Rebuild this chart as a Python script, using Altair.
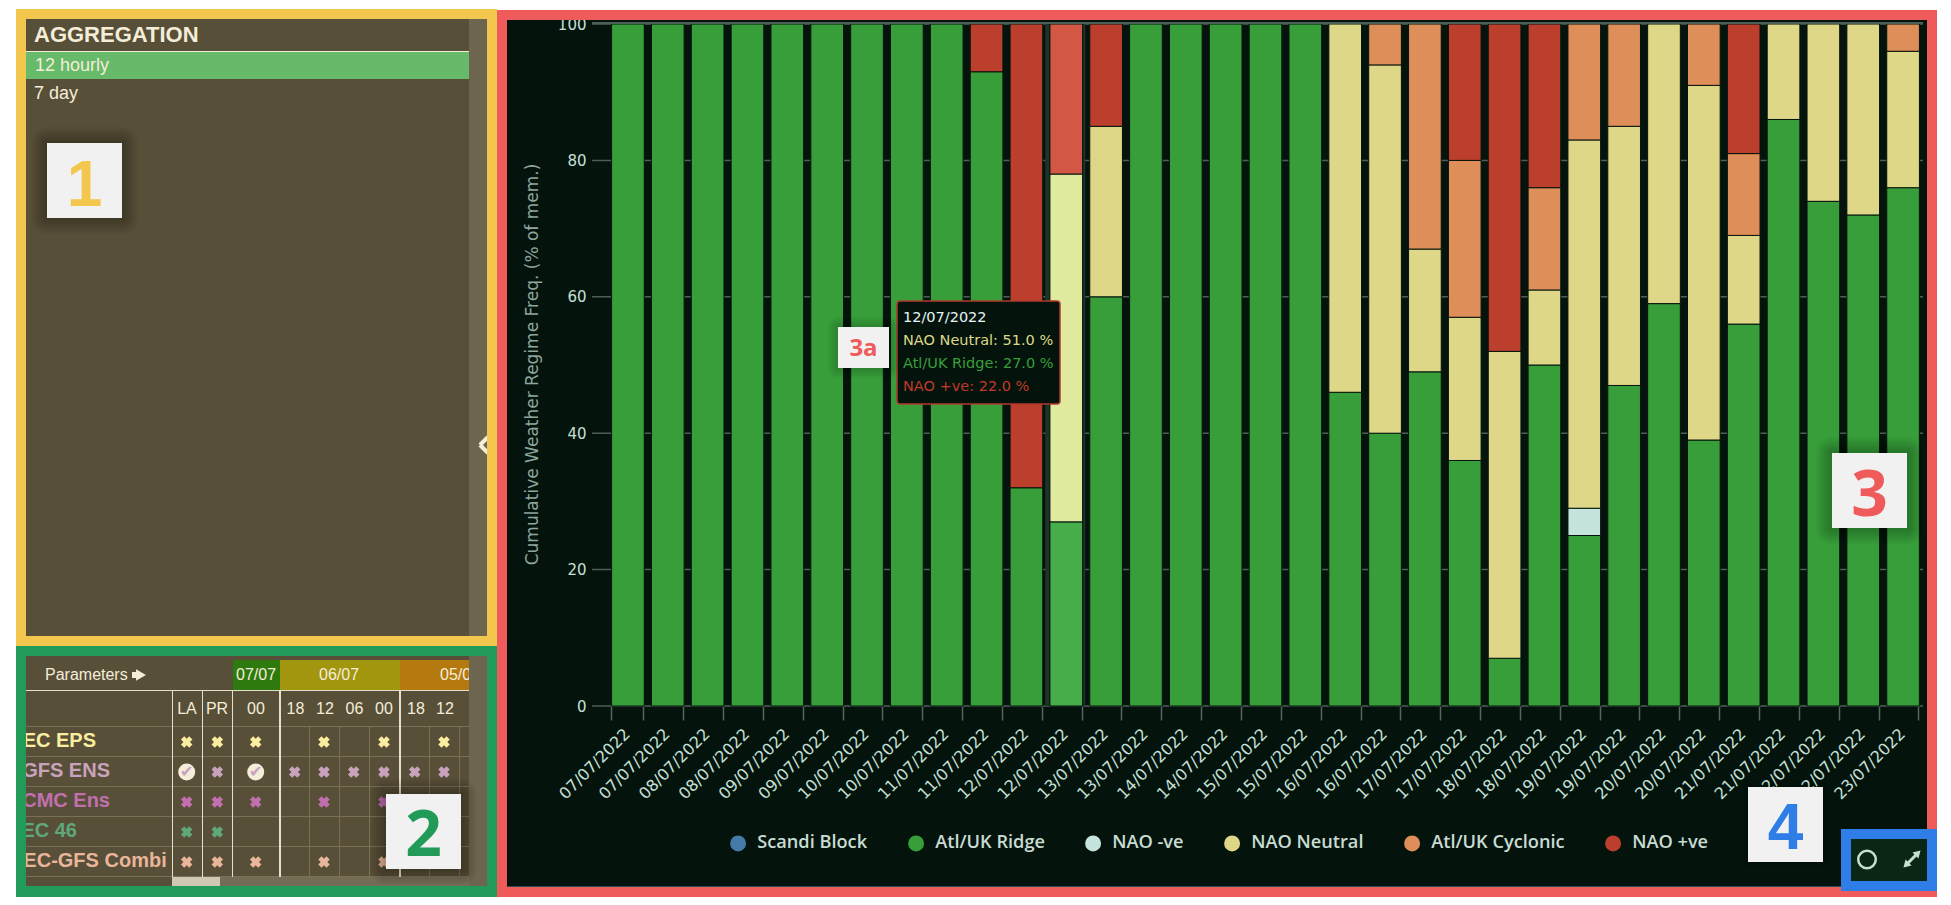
import altair as alt
import pandas as pd

# ---------- data ----------
dates = ["07/07/2022", "07/07/2022", "08/07/2022", "08/07/2022", "09/07/2022", "09/07/2022",
         "10/07/2022", "10/07/2022", "11/07/2022", "11/07/2022", "12/07/2022", "12/07/2022",
         "13/07/2022", "13/07/2022", "14/07/2022", "14/07/2022", "15/07/2022", "15/07/2022",
         "16/07/2022", "16/07/2022", "17/07/2022", "17/07/2022", "18/07/2022", "18/07/2022",
         "19/07/2022", "19/07/2022", "20/07/2022", "20/07/2022", "21/07/2022", "21/07/2022",
         "22/07/2022", "22/07/2022", "23/07/2022"]
regimes = ["Scandi Block", "Atl/UK Ridge", "NAO -ve", "NAO Neutral", "Atl/UK Cyclonic", "NAO +ve"]
scandi = [0] * 33
ridge = [100, 100, 100, 100, 100, 100, 100, 100, 100, 93, 32, 27, 60, 100, 100, 100, 100, 100,
         46, 40, 49, 36, 7, 50, 25, 47, 59, 39, 56, 86, 74, 72, 76]
nao_neg = [0, 0, 0, 0, 0, 0, 0, 0, 0, 0, 0, 0, 0, 0, 0, 0, 0, 0,
           0, 0, 0, 0, 0, 0, 4, 0, 0, 0, 0, 0, 0, 0, 0]
neutral = [0, 0, 0, 0, 0, 0, 0, 0, 0, 0, 0, 51, 25, 0, 0, 0, 0, 0,
           54, 54, 18, 21, 45, 11, 54, 38, 41, 52, 13, 14, 26, 28, 20]
cyclonic = [0, 0, 0, 0, 0, 0, 0, 0, 0, 0, 0, 0, 0, 0, 0, 0, 0, 0,
            0, 6, 33, 23, 0, 15, 17, 15, 0, 9, 12, 0, 0, 0, 4]
nao_pos = [0, 0, 0, 0, 0, 0, 0, 0, 0, 7, 68, 22, 15, 0, 0, 0, 0, 0,
           0, 0, 0, 20, 48, 24, 0, 0, 0, 0, 19, 0, 0, 0, 0]
series = [scandi, ridge, nao_neg, neutral, cyclonic, nao_pos]
y_ticks = [0, 20, 40, 60, 80, 100]
hover_index = 11

palette = ["#4479a8", "#379e39", "#c5e4dd", "#ded788", "#de8e58", "#bc3f2e"]
hover_palette = ["#4479a8", "#46ad4a", "#c5e4dd", "#e0ea9e", "#de8e58", "#d35745"]

models = ["EC EPS", "GFS ENS", "CMC Ens", "EC 46", "EC-GFS Combi"]
model_colors = ["#fbeea0", "#c9a3bd", "#c26fb0", "#5fa878", "#e9b59b"]
run_labels = ["LA", "PR", "00", "18", "12", "06", "00", "18", "12", "0"]
# 1 = available, 2 = selected, 0 = empty
availability = [
    [1, 1, 1, 0, 1, 0, 1, 0, 1],
    [2, 1, 2, 1, 1, 1, 1, 1, 1],
    [1, 1, 1, 0, 1, 0, 1, 0, 0],
    [1, 1, 0, 0, 0, 0, 0, 0, 0],
    [1, 1, 1, 0, 1, 0, 1, 0, 0],
]

# ---------- page geometry ----------
OX, OY = 607, 24            # page position of the plot origin
PW, PH = 1315, 682
BG = "#04140c"
PANEL = "#574f37"
STRIP = "#6e654e"
CREAM = "#f4edd9"
YELLOW = "#f3c74d"
GREEN = "#229a58"
RED = "#ef5a5b"
BLUE = "#2f7de6"
BOXBG = "#f1f1f1"
ICON = "#c5e0d0"

one = pd.DataFrame({"k": [0]})


def rect(x0, y0, x1, y1, color, opacity=1, radius=0):
    return alt.Chart(one).mark_rect(color=color, opacity=opacity, cornerRadius=radius).encode(
        x=alt.value(x0 - OX), x2=alt.value(x1 - OX), y=alt.value(y0 - OY), y2=alt.value(y1 - OY))


def line(x0, y0, x1, y1, color, w=1):
    return alt.Chart(one).mark_rule(color=color, strokeWidth=w).encode(
        x=alt.value(x0 - OX), x2=alt.value(x1 - OX), y=alt.value(y0 - OY), y2=alt.value(y1 - OY))


def txt(x, y, s, size, color, font="Liberation Sans", weight="normal", align="left"):
    return alt.Chart(one).mark_text(fontSize=size, color=color, font=font, fontWeight=weight,
                                    align=align, baseline="alphabetic").encode(
        x=alt.value(x - OX), y=alt.value(y - OY), text=alt.value(s))


def tri(x, y, size, angle, color):
    return alt.Chart(one).mark_point(shape="triangle-up", filled=True, size=size, angle=angle,
                                     color=color, opacity=1).encode(
        x=alt.value(x - OX), y=alt.value(y - OY))


def callout(x0, y0, x1, y1, s, size, color, baseline_y, font="Open Sans", spread=16):
    out = []
    for d in range(spread, 0, -2):
        out.append(rect(x0 - d, y0 - d, x1 + d, y1 + d, "#000000", 0.03, d))
    out.append(rect(x0, y0, x1, y1, BOXBG))
    out.append(txt((x0 + x1) / 2, baseline_y, s, size, color, font, "bold", "center"))
    return out


# ---------- main chart ----------
slots = [f"{d} {i:02d}" for i, d in enumerate(dates)]
rows = []
for order, (name, values) in enumerate(zip(regimes, series)):
    for slot_i, v in enumerate(values):
        if v > 0:
            rows.append({"slot": slots[slot_i], "regime": name, "value": v, "ord": order,
                         "hover": hover_palette[order], "hi": slot_i == hover_index})
df = pd.DataFrame(rows)

x_enc = alt.X("slot:N", sort=slots,
              scale=alt.Scale(domain=slots, paddingInner=0.18, paddingOuter=0.09),
              axis=alt.Axis(title=None, labelExpr="substring(datum.label,0,10)", labelAngle=315,
                            labelAlign="right", labelBaseline="middle", labelFont="DejaVu Sans",
                            labelFontSize=16, labelColor="#c5e0d8", labelPadding=11,
                            labelOverlap=False, labelOffset=0,
                            domain=False, grid=False, ticks=True, tickBand="extent", tickSize=14,
                            tickColor="#56655e", tickWidth=1.5))
y_enc = alt.Y("value:Q", stack="zero",
              scale=alt.Scale(domain=[0, 100], nice=False),
              axis=alt.Axis(title="Cumulative Weather Regime Freq. (% of mem.)", values=y_ticks,
                            titleFont="DejaVu Sans", titleFontSize=17, titleFontWeight="normal",
                            titleColor="#8da69e", titleX=-75, titleY=340, titleAngle=270,
                            titleAlign="center", titleBaseline="middle",
                            labelFont="DejaVu Sans", labelFontSize=15, labelColor="#c5e0d8",
                            labelPadding=21, domain=False, grid=False, ticks=False))

grid = alt.Chart(pd.DataFrame({"value": y_ticks})).mark_rule(color="#4d5e56", strokeWidth=1.5).encode(
    y=alt.Y("value:Q"), x=alt.value(-15), x2=alt.value(PW + 1))

halo = alt.Chart(pd.DataFrame({"slot": [slots[hover_index]], "value": [100]})).mark_bar(
    color="#1e3329", size=40).encode(x=alt.X("slot:N", sort=slots), y=alt.Y("value:Q"))

bars = alt.Chart(df).mark_bar(stroke=BG, strokeWidth=1, xOffset=1).encode(
    x=x_enc, y=y_enc,
    color=alt.Color("regime:N",
                    scale=alt.Scale(domain=regimes, range=palette),
                    legend=alt.Legend(title=None, orient="none", legendX=122, legendY=810,
                                      direction="horizontal", columns=6, symbolType="circle",
                                      symbolSize=254, symbolStrokeWidth=0, labelFont="Open Sans",
                                      labelFontSize=18.2, labelFontWeight=600, labelColor="#c8dcd3",
                                      labelOffset=10, columnPadding=39, labelLimit=0)),
    order=alt.Order("ord:Q", sort="ascending"))

hover_bars = alt.Chart(df[df["hi"]]).mark_bar(stroke=BG, strokeWidth=1, xOffset=1).encode(
    x=alt.X("slot:N", sort=slots), y=alt.Y("value:Q", stack="zero"),
    color=alt.Color("hover:N", scale=None, legend=None),
    order=alt.Order("ord:Q", sort="ascending"))

layers = [grid, halo, bars, hover_bars, rect(592, 22, 1923, 24, "#4d5e56")]

# ---------- tooltip ----------
tip_lines = [
    (dates[hover_index], "#e6f5f5"),
    (f"{regimes[3]}: {neutral[hover_index]:.1f} %", palette[3]),
    (f"{regimes[1]}: {ridge[hover_index]:.1f} %", "#3a9e3a"),
    (f"{regimes[5]}: {nao_pos[hover_index]:.1f} %", "#c0392b"),
]
layers.append(alt.Chart(one).mark_rect(color=BG, stroke="#b03a2e", strokeWidth=1.5, cornerRadius=3).encode(
    x=alt.value(897 - OX), x2=alt.value(1060 - OX), y=alt.value(301 - OY), y2=alt.value(404 - OY)))
for (s, c), by in zip(tip_lines, [322, 345, 368, 391]):
    layers.append(txt(903, by, s, 14.5, c, "DejaVu Sans"))

# ---------- surrounding frames of the dashboard ----------
layers += [
    rect(8, 8, 1937, 10, "#ffffff"),
    rect(8, 8, 16, 897, "#ffffff"),
    rect(497, 10, 1937, 20, RED),
    rect(497, 10, 507, 897, RED),
    rect(1927, 10, 1937, 897, RED),
    rect(507, 886, 1927, 887, "#2b4a55"),
    rect(497, 887, 1937, 897, RED),
    rect(16, 9, 497, 897, "#ffffff"),
    # panel 1
    rect(26, 19, 469, 636, PANEL),
    rect(469, 19, 487, 636, STRIP),
    txt(34, 41.5, "AGGREGATION", 22, CREAM, "Liberation Sans", "bold"),
    rect(26, 51, 469, 52, CREAM),
    rect(26, 52, 469, 79, "#66ba6a"),
    txt(35, 70.5, "12 hourly", 18, CREAM),
    txt(34, 99, "7 day", 18, CREAM),
    line(488, 437, 480, 445, CREAM, 4),
    line(480, 445, 488, 453, CREAM, 4),
    # panel 2
    rect(26, 656, 469, 886, PANEL),
    rect(233, 660, 280, 690, "#2f7a0e"),
    rect(280, 660, 400, 690, "#a1960e"),
    rect(400, 660, 469, 690, "#b47a10"),
    txt(45, 680, "Parameters", 16, CREAM),
    rect(132, 672, 140, 678, CREAM),
    tri(141, 675, 130, 90, CREAM),
    txt(256, 680, "07/07", 16, CREAM, align="center"),
    txt(339, 680, "06/07", 16, CREAM, align="center"),
    txt(460, 680, "05/07", 16, CREAM, align="center"),
]
for ry in [726.5, 756.5, 786.5, 816.5, 846.5, 876.5]:
    layers.append(rect(26, ry - 0.5, 469, ry + 0.5, "#7a7058"))
for vx in [309.5, 339.5, 369.5, 429.5, 459.5]:
    layers.append(rect(vx - 0.5, 726, vx + 0.5, 877, "#7a7058"))
for vx, w in [(172.5, 1), (202.5, 1), (232.5, 1), (280, 2), (400, 2)]:
    layers.append(rect(vx - w / 2, 690, vx + w / 2, 877, "#e6dfcb"))
layers.append(rect(26, 690, 469, 691, "#e6dfcb"))

col_x = [186.7, 217.3, 255.7, 294.7, 324, 353.7, 384, 414.7, 444, 474]
row_y = [742, 772, 802, 832, 862]
head_x = [187, 217, 256, 295.5, 325, 354.5, 384, 416, 445, 474]
for lab, hx in zip(run_labels, head_x):
    layers.append(txt(hx, 714, lab, 16, CREAM, align="center"))
for name, c, by, right in zip(models, model_colors, [747.3, 777.3, 807.3, 837.3, 867.3],
                              [96, 110, 110, 77, 166.7]):
    layers.append(txt(right, by, name, 20, c, "Liberation Sans", "bold", "right"))

cross_rows, tick_rows = [], []
for r, cells in enumerate(availability):
    for c, state in enumerate(cells):
        if state == 1:
            cross_rows.append({"px": col_x[c] - OX, "py": row_y[r] - OY, "c": model_colors[r]})
        elif state == 2:
            tick_rows.append({"px": col_x[c] - OX, "py": row_y[r] - OY})
layers.append(alt.Chart(pd.DataFrame(cross_rows)).mark_point(shape="cross", angle=45, filled=True, size=135, opacity=1).encode(
    x=alt.X("px:Q", scale=None, axis=None), y=alt.Y("py:Q", scale=None, axis=None),
    color=alt.Color("c:N", scale=None, legend=None)))
ticks_df = pd.DataFrame(tick_rows)
layers.append(alt.Chart(ticks_df).mark_circle(size=290, color=CREAM, opacity=1).encode(
    x=alt.X("px:Q", scale=None, axis=None), y=alt.Y("py:Q", scale=None, axis=None)))
layers.append(alt.Chart(ticks_df).mark_text(text="✔", fontSize=16, font="DejaVu Sans", color=model_colors[1]).encode(
    x=alt.X("px:Q", scale=None, axis=None), y=alt.Y("py:Q", scale=None, axis=None)))

layers += [
    rect(469, 656, 487, 886, STRIP),
    rect(172, 877, 469, 886, "#756c55"),
    rect(172, 877, 220, 886, "#cfc8b3"),
    # panel frames
    rect(16, 9, 497, 19, YELLOW),
    rect(16, 9, 26, 646, YELLOW),
    rect(487, 9, 497, 646, YELLOW),
    rect(16, 636, 497, 646, YELLOW),
    rect(16, 646, 497, 656, GREEN),
    rect(16, 646, 26, 897, GREEN),
    rect(487, 646, 497, 897, GREEN),
    rect(16, 886, 497, 897, GREEN),
]

# ---------- numbered callouts and bottom-right controls ----------
layers += callout(47, 143, 122, 218, "1", 64, YELLOW, 205.7, "Liberation Sans")
layers += callout(386, 794, 461, 869, "2", 64, GREEN, 856)
layers += callout(1832, 453, 1907, 528, "3", 64, RED, 515.7)
layers += callout(838, 327, 889, 368, "3a", 24, RED, 356, spread=10)
layers += callout(1748, 787, 1823, 862, "4", 64, BLUE, 849.3, "Liberation Sans", spread=6)
layers += [
    rect(1841, 829, 1937, 891, BLUE),
    rect(1851, 839, 1927, 881, "#0a2716"),
    alt.Chart(one).mark_point(shape="circle", size=310, filled=False, color=ICON, strokeWidth=2.5, opacity=1).encode(
        x=alt.value(1867 - OX), y=alt.value(859.5 - OY)),
    line(1906, 865, 1918, 853, ICON, 3),
    tri(1918, 853, 70, 45, ICON),
    tri(1906, 865, 70, 225, ICON),
]

chart = alt.layer(*layers).properties(
    width=PW, height=PH,
    background=BG,
    padding={"left": OX - 8, "top": OY - 8, "right": 15, "bottom": 191},
    autosize=alt.AutoSizeParams(type="none"),
).configure_view(stroke=None)

chart.save("out.html", embed_options={"renderer": "svg", "actions": False})
